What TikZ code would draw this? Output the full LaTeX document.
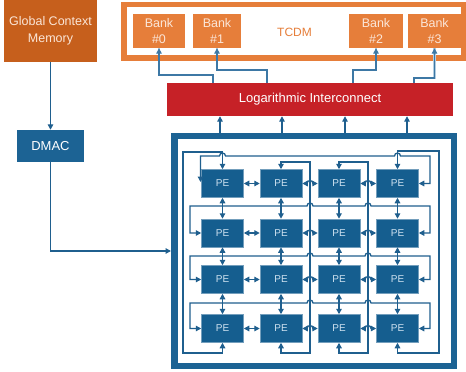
\documentclass[tikz,border=0pt]{standalone}
\usepackage{fontspec}
\setmainfont{Liberation Sans}
\usetikzlibrary{arrows.meta,calc}
\definecolor{gcmor}{HTML}{C65F1C}
\definecolor{bankor}{HTML}{E67E3A}
\definecolor{lighttext}{HTML}{FBE6D8}
\definecolor{icred}{HTML}{C62127}
\definecolor{dmblue}{HTML}{1C6394}
\definecolor{peblue}{HTML}{155E8F}
\definecolor{petext}{HTML}{CFE2F0}
\definecolor{lineblue}{HTML}{1F5F8E}
\definecolor{linkblue}{HTML}{3D78A5}
\definecolor{linkhalo}{HTML}{B3CDE0}
\tikzset{
  tipA/.tip={Triangle[length=5.5pt,width=5.5pt]},
  wire/.style={draw=lineblue, line width=1.3pt},
  one/.style={wire, -tipA},
  bi/.style={wire, tipA-tipA},
  link/.style={draw=linkblue, line width=1.3pt, -tipA,
    preaction={draw=linkhalo, line width=2.8pt, -}},
  pe/.style={fill=peblue, draw=peblue!60!white, line width=0.5pt, text=petext,
    font=\fontsize{10}{11}\selectfont, minimum width=42pt, minimum height=28pt, inner sep=0pt},
  bank/.style={fill=bankor, text=lighttext, font=\fontsize{12.5}{16.5}\selectfont,
    align=center, minimum height=34pt, inner sep=0pt},
}
\begin{document}
\begin{tikzpicture}[x=1pt,y=-1pt]
\useasboundingbox (0,0) rectangle (466,372);

% Global context memory
\node[fill=gcmor, text=lighttext, font=\fontsize{12.5}{17}\selectfont, align=center,
  minimum width=93pt, minimum height=62pt, inner sep=0pt] (gcm) at (50.5,31) {Global Context\\Memory};

% TCDM
\fill[bankor] (121,2) rectangle (466,61);
\fill[white] (127,7) rectangle (461,55);
\node[text=bankor, font=\fontsize{12}{14}\selectfont] (tcdm) at (294.5,32) {TCDM};
\node[bank, minimum width=52pt] (b0) at (159,31) {Bank\\\#0};
\node[bank, minimum width=48pt] (b1) at (217,31) {Bank\\\#1};
\node[bank, minimum width=54pt] (b2) at (376,31) {Bank\\\#2};
\node[bank, minimum width=53pt] (b3) at (434.5,31) {Bank\\\#3};

% Interconnect
\node[fill=icred, text=white, font=\fontsize{13}{15}\selectfont,
  minimum width=286pt, minimum height=33pt, inner sep=0pt] (ic) at (310,99.5) {Logarithmic Interconnect};

% DMAC
\node[fill=dmblue, text=white, font=\fontsize{13}{15}\selectfont,
  minimum width=67pt, minimum height=32pt, inner sep=0pt] (dmac) at (50.5,146) {DMAC};

% array frame
\fill[dmblue] (171,133) rectangle (457,369);
\fill[white] (177.5,139) rectangle (450.5,363);
\coordinate (arrw) at (171,251);

% interconnect -> banks
\coordinate (s0) at (213,83);
\coordinate (s1) at (267,83);
\coordinate (s2) at (353,83);
\coordinate (s3) at (414,83);
\draw[link] (s0) -- ++(0,-8) -| (b0.south);
\draw[link] (s1) -- ++(0,-13) -| (b1.south);
\draw[link] (s2) -- ++(0,-13) -| (b2.south);
\draw[link] (s3) -- ++(0,-5) -| (b3.south);

% array -> interconnect
\foreach \x in {220,282,345,407}{
  \coordinate (u\x) at (\x,133);
  \draw[one] (u\x) -- (u\x |- ic.south);
}

% GCM -> DMAC -> array
\draw[one] (gcm.south) -- (dmac.north);
\draw[one] (dmac.south) |- (arrw);

% PEs
\foreach \r/\y in {1/183.5,2/233,3/279.5,4/328.5}{
  \foreach \c/\x in {1/222.5,2/281,3/339,4/397.5}{
    \node[pe] (p\r\c) at (\x,\y) {PE};
  }
}

% horizontal neighbour links
\foreach \r/\y in {1/183.5,2/233,3/279.5,4/328.5}{
  \draw[bi] (p\r1.east) -- (p\r2.west);
  \draw[bi] (p\r2.east) -- (307,\y) arc[start angle=180,end angle=360,radius=3] -- (p\r3.west);
  \draw[bi] (p\r3.east) -- (365,\y) arc[start angle=180,end angle=360,radius=3] -- (p\r4.west);
}
% vertical neighbour links
\foreach \c in {1,2,3,4}{
  \draw[bi] (p1\c.south) -- (p2\c.north);
  \draw[bi] (p2\c.south) -- (p3\c.north);
  \draw[bi] (p3\c.south) -- (p4\c.north);
}

% column wrap-around links
\draw[bi] (p11.north) |- (183,152) -- (183,353) -| (p41.south);
\draw[bi] (p12.north) |- (310,162) -- (310,353) -| (p42.south);
\draw[bi] (p13.north) |- (368,162) -- (368,353) -| (p43.south);
\draw[bi] (p14.north) |- (439,151) -- (439,353) -| (p44.south);

% row wrap-around links
\coordinate (r1l) at (200.5,182);
\draw[bi] (r1l) -- (200.5,156) -- (219.5,156) arc[start angle=180,end angle=360,radius=3]
   -- (394.5,156) arc[start angle=180,end angle=360,radius=3] -- (430,156) |- (p14.east);
\foreach \r/\h in {2/206,3/256,4/303}{
  \draw[bi] (p\r1.west) -| (190,\h) -- (307,\h) arc[start angle=180,end angle=360,radius=3]
     -- (365,\h) arc[start angle=180,end angle=360,radius=3] -- (430,\h) |- (p\r4.east);
}
\end{tikzpicture}
\end{document}
